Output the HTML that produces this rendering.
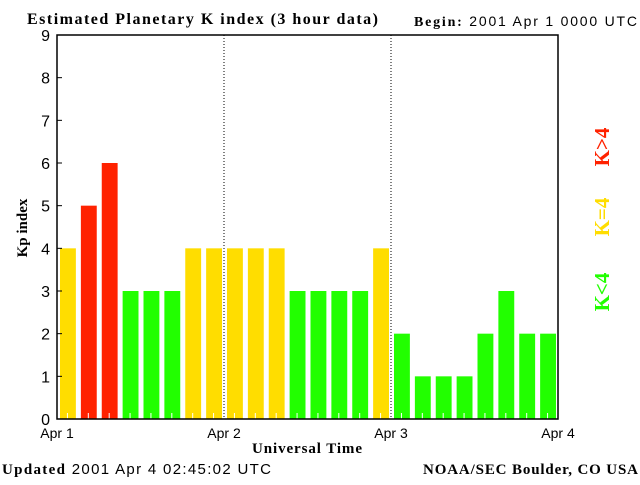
<!DOCTYPE html>
<html><head><meta charset="utf-8"><style>
body{margin:0;background:#fff;width:640px;height:480px;overflow:hidden}
svg text{font-family:"Liberation Sans",sans-serif}
.serif{font-family:"Liberation Serif",serif;font-weight:bold}
</style></head><body>
<svg id="chart" width="640" height="480" xmlns="http://www.w3.org/2000/svg">
<text class="serif" x="27" y="24" font-size="16" textLength="351" lengthAdjust="spacing">Estimated Planetary K index (3 hour data)</text>
<text x="414" y="26" font-size="14" textLength="223" lengthAdjust="spacing"><tspan style="font-family:'Liberation Serif',serif;font-weight:bold">Begin:</tspan> 2001 Apr 1 0000 UTC</text>
<g id="plot"></g>
<text class="serif" x="27" y="228" font-size="15" transform="rotate(-90 27 228)" text-anchor="middle">Kp index</text>
<text class="serif" x="307" y="453" font-size="15" text-anchor="middle" textLength="110" lengthAdjust="spacing">Universal Time</text>
<text x="2" y="474" font-size="15" textLength="269" lengthAdjust="spacing"><tspan style="font-family:'Liberation Serif',serif;font-weight:bold">Updated</tspan> 2001 Apr  4 02:45:02 UTC</text>
<text class="serif" x="423" y="474" font-size="15" textLength="215" lengthAdjust="spacing">NOAA/SEC Boulder, CO USA</text>
<text class="serif" x="609" y="147" font-size="21" fill="#ff2200" text-anchor="middle" transform="rotate(-90 609 147)">K&gt;4</text>
<text class="serif" x="609" y="217" font-size="21" fill="#ffdd00" text-anchor="middle" transform="rotate(-90 609 217)">K=4</text>
<text class="serif" x="609" y="292" font-size="21" fill="#22ff00" text-anchor="middle" transform="rotate(-90 609 292)">K&lt;4</text>
</svg>
<script>
const kpValues=[4,5,6,3,3,3,4,4,4,4,4,3,3,3,3,4,2,1,1,1,2,3,2,2];
const yTicks=[0,1,2,3,4,5,6,7,8,9];
const dayLabels=["Apr 1","Apr 2","Apr 3","Apr 4"];
const NS="http://www.w3.org/2000/svg";
const L=57,R=558,T=35,B=419;
const slots=kpValues.length;
const xs=i=>L+(R-L)*i/slots;
const ys=v=>B-(B-T)*v/9;
const g=document.getElementById('plot');
function mk(t,a){const e=document.createElementNS(NS,t);for(const k in a)e.setAttribute(k,a[k]);g.appendChild(e);return e;}
const sw=(R-L)/slots;
kpValues.forEach((v,i)=>{
 const c=v>4?'#ff2200':(v==4?'#ffdd00':'#22ff00');
 const r=mk('rect',{x:xs(i)+3,y:ys(v),width:sw-5,height:B-ys(v),fill:c});
 
 
 const t=mk('line',{x1:xs(i)+sw/2,x2:xs(i)+sw/2,y1:B-6,y2:B,stroke:'#fff','stroke-width':1});
 
 
});
dayLabels.forEach((d,i)=>{
 const x=L+(R-L)*i/(dayLabels.length-1);
 if(i>0&&i<dayLabels.length-1){
  const l=mk('line',{x1:x,x2:x,y1:T,y2:B,stroke:'#000','stroke-dasharray':'1,2'});
  
  
 }
 const t=mk('text',{x:x,y:438,'font-size':14,'text-anchor':'middle'});t.textContent=d;
 
 
});
yTicks.forEach(v=>{
 const y=ys(v);
 const l=mk('line',{x1:L,x2:L+5,y1:y,y2:y,stroke:'#000'});
 
 
 const t=mk('text',{x:50,y:y+6,'font-size':16,'text-anchor':'end'});t.textContent=v;
 
 
});
const f=mk('rect',{x:L,y:T,width:R-L,height:B-T,fill:'none',stroke:'#000','stroke-width':1.5});


</script>
</body></html>
